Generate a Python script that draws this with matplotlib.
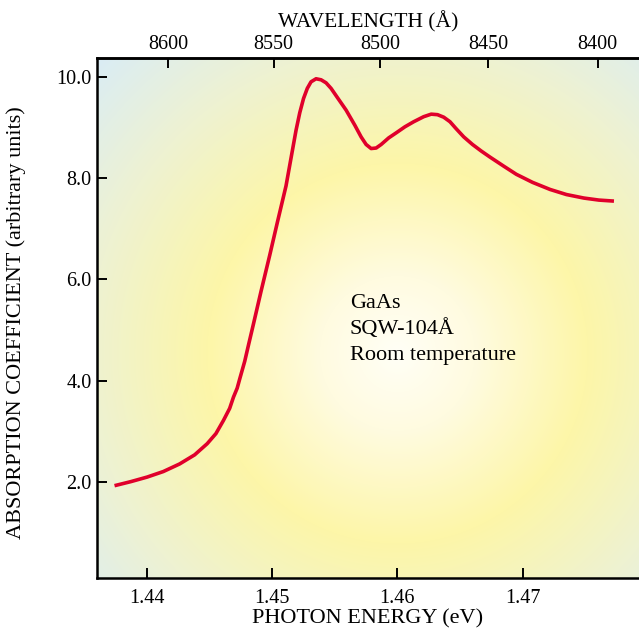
import numpy as np
import matplotlib.pyplot as plt
from matplotlib.colors import LinearSegmentedColormap

plt.rcParams['font.family'] = ['Liberation Serif', 'DejaVu Serif']

# photon energy (eV) and absorption coefficient (arb. units)
energy = [1.4374, 1.4387, 1.4400, 1.4413, 1.4426, 1.4438, 1.4448, 1.4455,
          1.4461, 1.4466, 1.4469, 1.4472, 1.4474, 1.4478, 1.4481, 1.4485,
          1.4491, 1.4498, 1.4504, 1.4511, 1.4515, 1.4519, 1.4522, 1.4525,
          1.4528, 1.4531, 1.4535, 1.4539, 1.4543, 1.4547, 1.4552, 1.4559,
          1.4566, 1.4571, 1.4575, 1.4579, 1.4583, 1.4587, 1.4593, 1.4599,
          1.4606, 1.4613, 1.4621, 1.4627, 1.4632, 1.4637, 1.4642, 1.4647,
          1.4653, 1.4660, 1.4667, 1.4674, 1.4685, 1.4695, 1.4708, 1.4722,
          1.4735, 1.4749, 1.4761, 1.4773]
absorption = [1.92, 2.00, 2.09, 2.20, 2.35, 2.53, 2.75, 2.95,
              3.21, 3.45, 3.67, 3.85, 4.03, 4.38, 4.70, 5.12,
              5.76, 6.48, 7.12, 7.85, 8.40, 8.95, 9.30, 9.58,
              9.78, 9.91, 9.97, 9.95, 9.89, 9.78, 9.60, 9.35,
              9.05, 8.82, 8.67, 8.59, 8.60, 8.67, 8.80, 8.90,
              9.02, 9.12, 9.22, 9.27, 9.26, 9.21, 9.12, 8.98,
              8.82, 8.67, 8.54, 8.42, 8.24, 8.08, 7.92, 7.78,
              7.68, 7.61, 7.57, 7.55]

energy_ticks = [1.44, 1.45, 1.46, 1.47]
abs_ticks = [2.0, 4.0, 6.0, 8.0, 10.0]
wl_ticks = [8600, 8550, 8500, 8450, 8400]
note = "GaAs\nSQW-104Å\nRoom temperature"

HC = 12398.4  # eV * Angstrom

fig = plt.figure(figsize=(6.39, 6.31), dpi=100)
ax = fig.add_axes([0.1518, 0.0845, 0.8482, 0.8235])

xlim = (1.4360, 1.4793)
ylim = (0.10, 10.38)

# radial background glow
W, H = 542, 520
gx, gy = np.meshgrid(np.arange(W), np.arange(H))
cx, cy = 300, 295
r = np.hypot(gx - cx, gy - cy) / 430.0
cmap = LinearSegmentedColormap.from_list(
    "glow", [(0.0, "#fffff6"), (0.18, "#fffbe0"), (0.44, "#fdf6a8"),
             (0.72, "#eef2d2"), (1.0, "#d8ecf8")])
ax.imshow(np.clip(r, 0, 1), cmap=cmap, vmin=0, vmax=1, aspect='auto',
          extent=(xlim[0], xlim[1], ylim[0], ylim[1]), origin='upper',
          zorder=0, interpolation='bilinear')

ax.plot(energy, absorption, color='#e0002b', lw=2.6,
        solid_joinstyle='round', solid_capstyle='butt', zorder=3)

ax.set_xlim(*xlim)
ax.set_ylim(*ylim)
ax.set_xticks(energy_ticks)
ax.set_xticklabels([f"{t:.2f}" for t in energy_ticks])
ax.set_yticks(abs_ticks)
ax.set_yticklabels([f"{t:.1f}" for t in abs_ticks])
ax.tick_params(direction='in', length=7, width=1.4, labelsize=14.5, pad=8)
ax.tick_params(axis='y', pad=4)
for side in ['left', 'bottom', 'top']:
    ax.spines[side].set_linewidth(1.8)
ax.spines['right'].set_visible(False)

ax.set_xlabel("PHOTON ENERGY (eV)", fontsize=16, labelpad=1)
ax.set_ylabel("ABSORPTION COEFFICIENT (arbitrary units)", fontsize=16)
ax.yaxis.set_label_coords(-0.131, 0.49)

top = ax.secondary_xaxis('top', functions=(lambda e: HC / e, lambda w: HC / w))
top.set_xticks(wl_ticks)
top.tick_params(direction='in', length=7, width=1.4, labelsize=14.5, pad=3)
top.spines['top'].set_linewidth(1.8)
top.set_xlabel("WAVELENGTH (Å)", fontsize=15.5, labelpad=5)

ax.text(1.4562, 5.72, note, fontsize=16, va='top', ha='left',
        linespacing=1.45, zorder=4)

fig.savefig("out.png", dpi=100)
